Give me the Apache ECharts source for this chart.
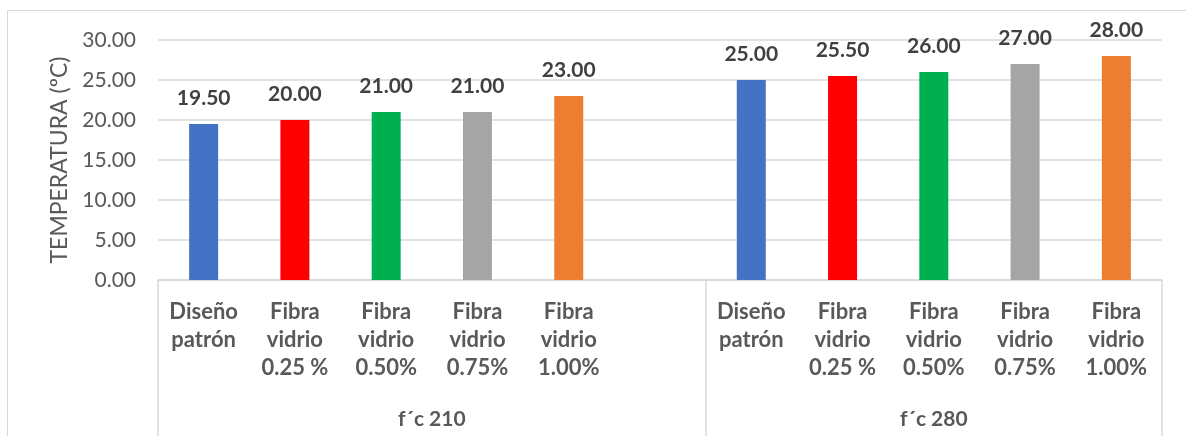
<!DOCTYPE html>
<html><head><meta charset="utf-8">
<script src="https://cdn.jsdelivr.net/npm/echarts@6/dist/echarts.min.js"></script>
<style>
html,body{margin:0;padding:0;background:#fff;}
#wrap{position:relative;width:1186px;height:436px;overflow:hidden;}
#frame{position:absolute;left:7px;top:10px;width:1300px;height:600px;border:1.5px solid #d9d9d9;box-sizing:border-box;}
#chart{position:absolute;left:0;top:0;width:1186px;height:436px;}
</style></head>
<body><div id="wrap"><div id="frame"></div><div id="chart"></div></div>
<script>
// ---- data ----
const categories = [
  'Diseño\npatrón', 'Fibra\nvidrio\n0.25 %', 'Fibra\nvidrio\n0.50%', 'Fibra\nvidrio\n0.75%', 'Fibra\nvidrio\n1.00%', '',
  'Diseño\npatrón', 'Fibra\nvidrio\n0.25 %', 'Fibra\nvidrio\n0.50%', 'Fibra\nvidrio\n0.75%', 'Fibra\nvidrio\n1.00%'
];
const values = [19.5, 20.0, 21.0, 21.0, 23.0, null, 25.0, 25.5, 26.0, 27.0, 28.0];
const groupNames = ['f´c 210', 'f´c 280'];
const groupSizes = [6, 5];
const yTicks = [0, 5, 10, 15, 20, 25, 30];
const yName = 'TEMPERATURA (ºC)';

// ---- style ----
const palette = ['#4472C4', '#FF0000', '#00B050', '#A5A5A5', '#ED7D31', '#A5A5A5'];
const FONT = 'Lato';

const groupStarts = [];
const groupCenters = {};
let acc = 0;
groupSizes.forEach((s, i) => { groupStarts.push(acc); groupCenters[String(acc + s / 2)] = groupNames[i]; acc += s; });

const chart = echarts.init(document.getElementById('chart'), null, {renderer: 'canvas'});
chart.setOption({
  animation: false,
  grid: {left: 158, right: 24, top: 40, bottom: 156, containLabel: false},
  xAxis: [{
    type: 'category',
    data: categories,
    boundaryGap: true,
    axisLine: {show: true, lineStyle: {color: '#d9d9d9', width: 1.5}},
    axisTick: {show: true, length: 170, interval: (i) => groupStarts.indexOf(i) >= 0, lineStyle: {color: '#d9d9d9', width: 1.5}},
    axisLabel: {interval: 0, color: '#595959', fontFamily: FONT, fontWeight: 'bold', fontSize: 22, lineHeight: 28, margin: 18, verticalAlign: 'top'},
    splitLine: {show: false}
  }, {
    type: 'value',
    position: 'bottom',
    min: 0, max: acc, interval: 0.5,
    axisLine: {show: false}, axisTick: {show: false}, splitLine: {show: false},
    axisLabel: {
      color: '#595959', fontFamily: FONT, fontWeight: 'bold', fontSize: 21, margin: 129, verticalAlign: 'top',
      showMinLabel: true, showMaxLabel: true,
      formatter: (v) => groupCenters[String(v)] || ''
    }
  }],
  yAxis: {
    type: 'value',
    min: yTicks[0], max: yTicks[yTicks.length - 1], interval: yTicks[1] - yTicks[0],
    name: yName, nameLocation: 'middle', nameGap: 87, nameRotate: 90,
    nameTextStyle: {color: '#595959', fontFamily: FONT, fontSize: 23},
    axisLine: {show: false}, axisTick: {show: false},
    axisLabel: {color: '#595959', fontFamily: FONT, fontSize: 21, margin: 22, formatter: (v) => v.toFixed(2)},
    splitLine: {lineStyle: {color: '#d9d9d9', width: 1.5}}
  },
  series: [{
    type: 'bar',
    xAxisIndex: 0,
    barWidth: 29,
    data: values.map((v, i) => ({value: v, itemStyle: {color: palette[i % 6]}})),
    label: {
      show: true, position: 'top', distance: 15,
      color: '#404040', fontFamily: FONT, fontWeight: 'bold', fontSize: 21,
      formatter: (p) => (p.value == null ? '' : Number(p.value).toFixed(2))
    }
  }]
});
</script></body></html>
